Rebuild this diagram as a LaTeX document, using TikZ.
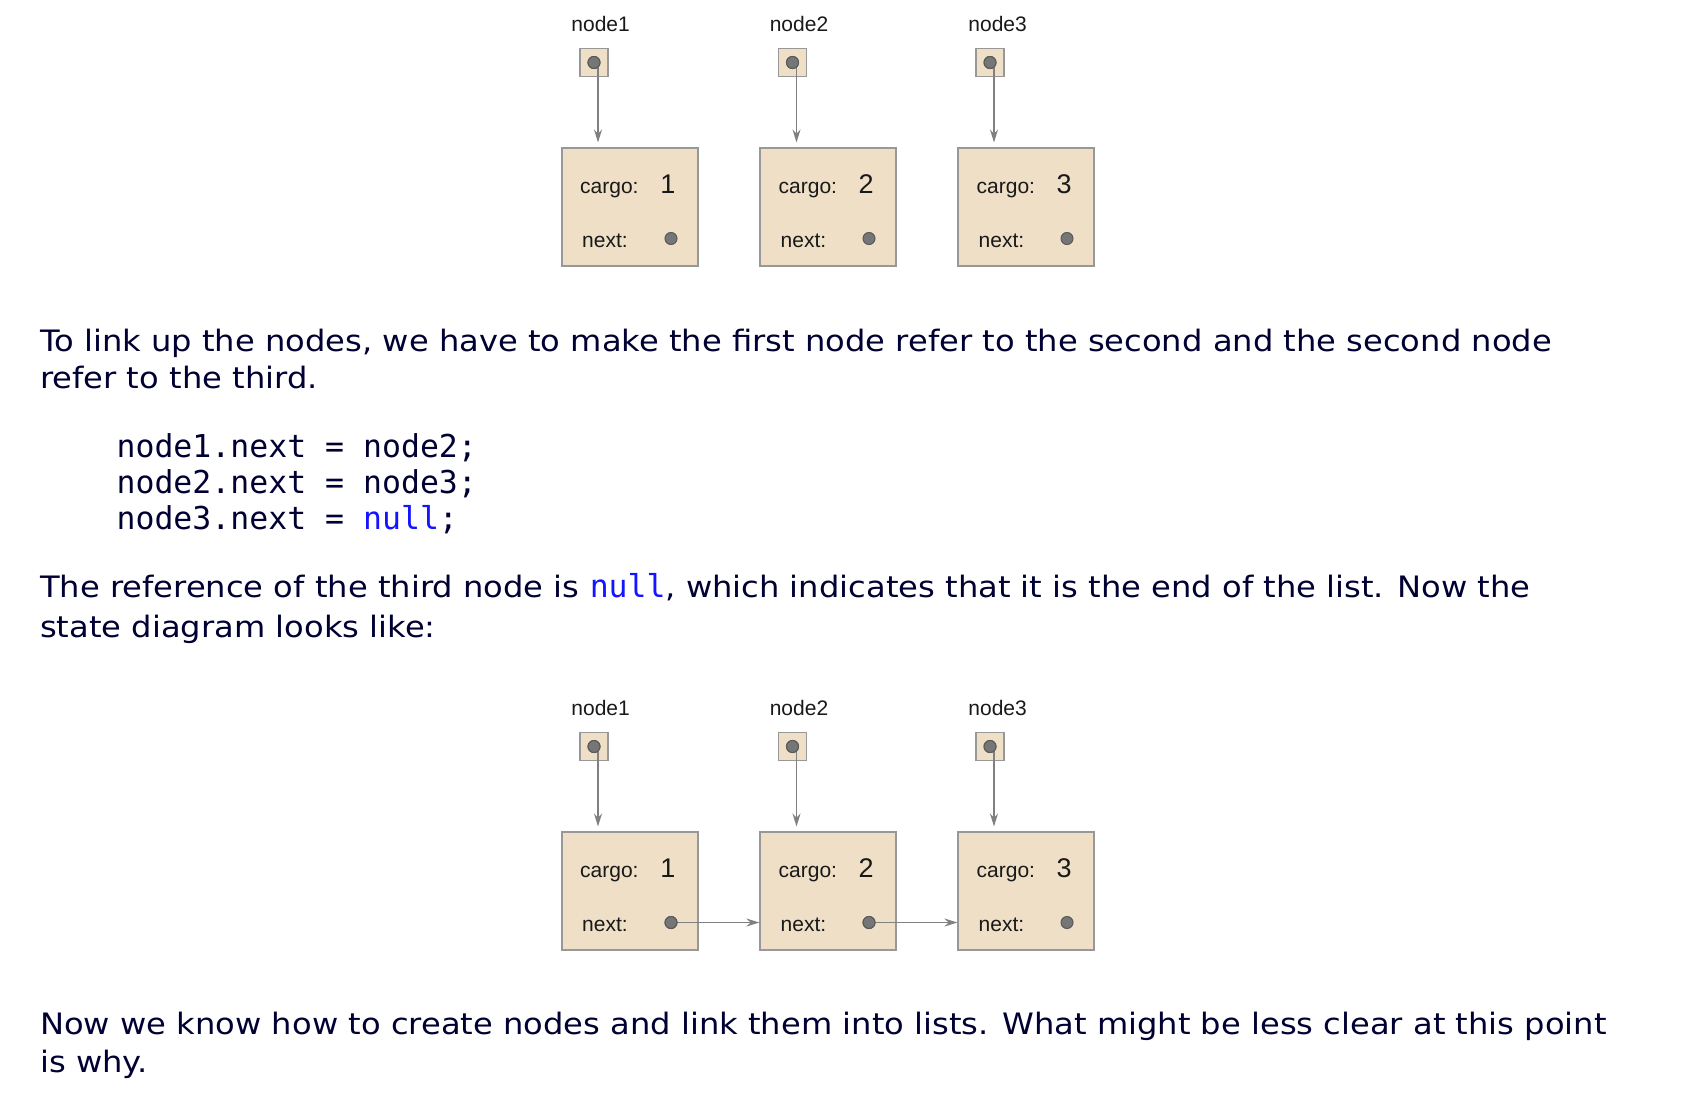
\documentclass[tikz,border=0pt]{standalone}
\usepackage{fontspec}
\setmainfont[FakeStretch=1.09]{DejaVu Sans}
\setmonofont{DejaVu Sans Mono}
\newfontfamily\figfont{Liberation Sans}
\usetikzlibrary{arrows.meta, positioning}

\definecolor{ink}{RGB}{0,0,51}
\definecolor{nullblue}{RGB}{20,20,255}
\definecolor{wheat}{RGB}{238,223,198}
\definecolor{rim}{RGB}{152,152,152}
\definecolor{pinfill}{RGB}{118,118,118}
\definecolor{wire}{RGB}{128,128,128}

\begin{document}
\begin{tikzpicture}[
						x=1pt, y=-1pt,
						line/.style = {text=ink, font=\fontsize{29.5}{35}\selectfont, anchor=base west, inner sep=0pt},
						code/.style = {text=ink, font=\fontsize{31.5}{36}\selectfont\ttfamily, anchor=base west, inner sep=0pt},
						label/.style = {text=black!90, font=\figfont\fontsize{21}{24}\selectfont, anchor=base, inner sep=0pt},
						var/.style = {draw=rim, fill=wheat, line width=1.5pt, minimum size=28pt, inner sep=0pt},
						cell/.style = {draw=rim, fill=wheat, line width=2pt, minimum width=136pt, minimum height=118pt, inner sep=0pt},
						pin/.style = {draw=black!65, fill=pinfill, circle, line width=1pt, minimum size=12pt, inner sep=0pt},
						field/.style = {text=black!90, font=\figfont\fontsize{21}{24}\selectfont, anchor=base west, inner sep=0pt},
						val/.style = {text=black!90, font=\figfont\fontsize{27}{30}\selectfont, anchor=base, inner sep=0pt},
						ref/.style = {draw=wire, line width=1.5pt, -{Stealth[length=13pt, width=8pt]}}
					]
\fill[white] (0,0) rectangle (1706,1116);
\useasboundingbox (0,0) rectangle (1706,1116);

% before linking
\node[label] (t1) at (600.6,31.7) {node1};
\node[label] (t2) at (799,31.7) {node2};
\node[label] (t3) at (997.6,31.7) {node3};
\node[var] (v1) at (594,62.5) {};
\node[var] (v2) at (792.5,62.5) {};
\node[var] (v3) at (990,62.5) {};
\node[pin] (p1) at (v1) {};
\node[pin] (p2) at (v2) {};
\node[pin] (p3) at (v3) {};
\node[cell] (box1) at (630.4,206.5) {};
\node[cell, right=60pt of box1] (box2) {};
\node[cell, right=60pt of box2] (box3) {};
\node[field] (c1) at (580,193) {cargo:};
\node[field] (c2) at (778.5,193) {cargo:};
\node[field] (c3) at (976.5,193) {cargo:};
\node[val] (n1) at (668,193) {1};
\node[val] (n2) at (866,193) {2};
\node[val] (n3) at (1064,193) {3};
\node[field] (x1) at (582,247) {next:};
\node[field] (x2) at (780.5,247) {next:};
\node[field] (x3) at (978.5,247) {next:};
\node[pin] (d1) at (671,238.5) {};
\node[pin] (d2) at (869,238.5) {};
\node[pin] (d3) at (1067,238.5) {};

\draw[ref, shorten >=4pt] ([xshift=4pt]p1.center) -- ([xshift=4pt]p1.center |- box1.north);
\draw[ref, shorten >=4pt] ([xshift=4pt]p2.center) -- ([xshift=4pt]p2.center |- box2.north);
\draw[ref, shorten >=4pt] ([xshift=4pt]p3.center) -- ([xshift=4pt]p3.center |- box3.north);
\node[pin] at (p1) {};
\node[pin] at (p2) {};
\node[pin] at (p3) {};

% text
\node[line] (para1) at (40,351.7) {To link up the nodes, we have to make the first node refer to the second and the second node};
\node[line] (para1b) at (40,388.3) {refer to the third.};
\node[code] (code1) at (116.4,457) {node1.next = node2;};
\node[code] (code2) at (116.4,493) {node2.next = node3;};
\node[code] (code3) at (116.4,529) {node3.next = \textcolor{nullblue}{null};};
\node[line] (para2) at (40,597.7) {The reference of the third node is \textcolor{nullblue}{\ttfamily\fontsize{31.5}{36}\selectfont null}, which indicates that it is the end of the list. Now the};
\node[line] (para2b) at (40,637) {state diagram looks like:};

% after linking
\node[label] (u1) at (600.6,715.7) {node1};
\node[label] (u2) at (799,715.7) {node2};
\node[label] (u3) at (997.6,715.7) {node3};
\node[var] (w1) at (594,746.5) {};
\node[var] (w2) at (792.5,746.5) {};
\node[var] (w3) at (990,746.5) {};
\node[pin] (q1) at (w1) {};
\node[pin] (q2) at (w2) {};
\node[pin] (q3) at (w3) {};
\node[cell] (cell1) at (630.4,890.5) {};
\node[cell, right=60pt of cell1] (cell2) {};
\node[cell, right=60pt of cell2] (cell3) {};
\node[field] (k1) at (580,877) {cargo:};
\node[field] (k2) at (778.5,877) {cargo:};
\node[field] (k3) at (976.5,877) {cargo:};
\node[val] (m1) at (668,877) {1};
\node[val] (m2) at (866,877) {2};
\node[val] (m3) at (1064,877) {3};
\node[field] (y1) at (582,931) {next:};
\node[field] (y2) at (780.5,931) {next:};
\node[field] (y3) at (978.5,931) {next:};
\node[pin] (e1) at (671,922.5) {};
\node[pin] (e2) at (869,922.5) {};
\node[pin] (e3) at (1067,922.5) {};

\draw[ref, shorten >=4pt] ([xshift=4pt]q1.center) -- ([xshift=4pt]q1.center |- cell1.north);
\draw[ref, shorten >=4pt] ([xshift=4pt]q2.center) -- ([xshift=4pt]q2.center |- cell2.north);
\draw[ref, shorten >=4pt] ([xshift=4pt]q3.center) -- ([xshift=4pt]q3.center |- cell3.north);
\draw[ref] (e1.center) -- (e1.center -| cell2.west);
\draw[ref] (e2.center) -- (e2.center -| cell3.west);
\node[pin] at (q1) {};
\node[pin] at (q2) {};
\node[pin] at (q3) {};
\node[pin] at (e1) {};
\node[pin] at (e2) {};

\node[line] (para3) at (40,1034) {Now we know how to create nodes and link them into lists. What might be less clear at this point};
\node[line] (para3b) at (40,1072) {is why.};
\end{tikzpicture}
\end{document}
